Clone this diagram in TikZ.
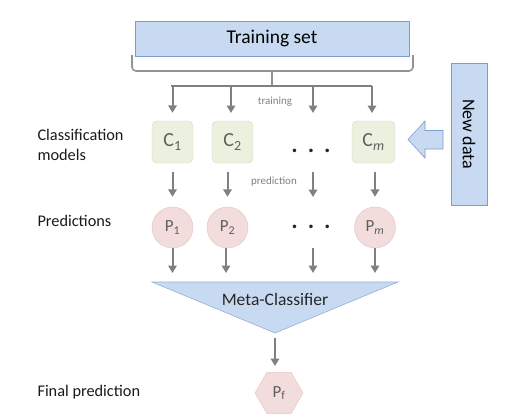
\documentclass[tikz,border=0pt]{standalone}
\usepackage{fontspec}
\setmainfont{Carlito}
\usetikzlibrary{arrows.meta,shapes.geometric,calc}
\definecolor{boxblue}{RGB}{200,218,241}
\definecolor{boxblueline}{RGB}{125,155,205}
\definecolor{cfill}{RGB}{235,241,222}
\definecolor{cline}{RGB}{210,218,192}
\definecolor{pfill}{RGB}{242,221,220}
\definecolor{pline}{RGB}{226,194,194}
\definecolor{arr}{RGB}{128,128,128}
\definecolor{lbl}{RGB}{95,95,95}
\begin{document}
\begin{tikzpicture}[x=1pt,y=-1pt,
 flow/.style={draw=arr, line width=2pt, -{Triangle[width=8.5pt,length=7.5pt]}},
 cbox/.style={draw=cline, fill=cfill, rounded corners=5pt, minimum width=41pt, minimum height=42pt, inner sep=0pt, text=lbl, font=\fontsize{20}{20}\selectfont},
 pcirc/.style={circle, draw=pline, fill=pfill, minimum size=41pt, inner sep=0pt, text=lbl, font=\fontsize{17}{17}\selectfont},
 side/.style={anchor=west, align=left, font=\fontsize{16.3}{20}\selectfont, text=black!90},
 smalllbl/.style={font=\fontsize{11}{11}\selectfont, text=arr},
 dotsn/.style={font=\fontsize{24}{24}\selectfont\bfseries, text=black!85, inner sep=0pt},
 bluebox/.style={draw=boxblueline, fill=boxblue}
]
\useasboundingbox (0,0) rectangle (526,416);

% training set
\node[bluebox, minimum width=274pt, minimum height=35pt, inner sep=0pt, font=\fontsize{19.5}{20}\selectfont] (train) at (272,38.5) {Training set};
\draw[draw=arr!85, line width=1.6pt, rounded corners=4pt] (132,55) -- (132,71) -- (413,71) -- (413,55);
\coordinate (hub) at (272,86);
\draw[draw=arr!85, line width=1.6pt] (272,71) -- (hub);
\draw[draw=arr, line width=2pt] (171,86) -- (372,86);

% classifiers
\node[cbox] (C1) at (172.5,142) {C\textsubscript{1}};
\node[cbox] (C2) at (232.5,142) {C\textsubscript{2}};
\node[cbox, minimum width=43pt] (Cm) at (373.5,142) {C\textsubscript{\textit{m}}};
\node[dotsn] (dotsC) at (311,151) {.\hspace{10pt}.\hspace{10pt}.};

% predictions
\node[pcirc] (P1) at (172.5,227.5) {P\textsubscript{1}};
\node[pcirc] (P2) at (227.5,227.5) {P\textsubscript{2}};
\node[pcirc] (Pm) at (375,227.5) {P\textsubscript{\textit{m}}};
\node[dotsn] (dotsP) at (311,227) {.\hspace{10pt}.\hspace{10pt}.};

% training arrows
\coordinate (tc) at (313,121);
\draw[flow, shorten >=8pt] (C1.north |- hub) -- (C1.north);
\draw[flow, shorten >=8pt] (231,86) -- (231,121);
\draw[flow, shorten >=8pt] (tc |- hub) -- (tc);
\draw[flow, shorten >=8pt] (372,86) -- (372,121);
\node[smalllbl] (trlbl) at (275,102) {training};

% prediction arrows
\coordinate (ps) at (313,172);
\coordinate (pe) at (313,197);
\draw[flow, shorten <=9pt, shorten >=10pt] (C1.south) -- (P1.north);
\draw[flow, shorten <=9pt, shorten >=10pt] (P2.north |- C2.south) -- (P2.north);
\draw[flow] (ps) -- (pe);
\draw[flow, shorten <=9pt, shorten >=10pt] (Pm.north |- Cm.south) -- (Pm.north);
\node[smalllbl] (prlbl) at (274,182) {prediction};

% meta classifier
\coordinate (mtl) at (152,282);
\coordinate (mtr) at (398,282);
\coordinate (apex) at (275,333);
\draw[draw=boxblueline!80, fill=boxblue, line width=0.6pt] (mtl) -- (mtr) -- (apex) -- cycle;
\node[font=\fontsize{17.5}{17.5}\selectfont, text=black!85] (meta) at (275,299) {Meta-Classifier};
\draw[flow, shorten >=9pt] (P1.south) -- (P1.south |- mtl);
\draw[flow, shorten >=9pt] (226,248) -- (226,282);
\draw[flow, shorten >=9pt] (313,248) -- (313,282);
\draw[flow, shorten >=9pt] (Pm.south) -- (Pm.south |- mtl);

% final prediction
\node[regular polygon, regular polygon sides=6, minimum size=48pt, inner sep=0pt, draw=pline, fill=pfill, text=lbl, font=\fontsize{17}{17}\selectfont] (Pf) at (279,393) {P\textsubscript{f}};
\draw[flow, shorten <=5pt, shorten >=6pt] (apex) -- (apex |- Pf.north);

% new data
\node[bluebox, rotate=-90, minimum width=142pt, minimum height=36pt, inner sep=0pt, font=\fontsize{18}{18}\selectfont] (newdata) at (469,134) {New data\hspace{12pt}};
\draw[bluebox, line width=0.6pt] (408,139.5) -- (425,121) -- (425,130.5) -- (443,130.5) -- (443,149) -- (425,149) -- (425,158) -- cycle;

% side labels
\node[side] (lc) at (34,145) {Classification\\models};
\node[side] (lp) at (34,221) {Predictions};
\node[side] (lf) at (34,392) {Final prediction};
\end{tikzpicture}
\end{document}
